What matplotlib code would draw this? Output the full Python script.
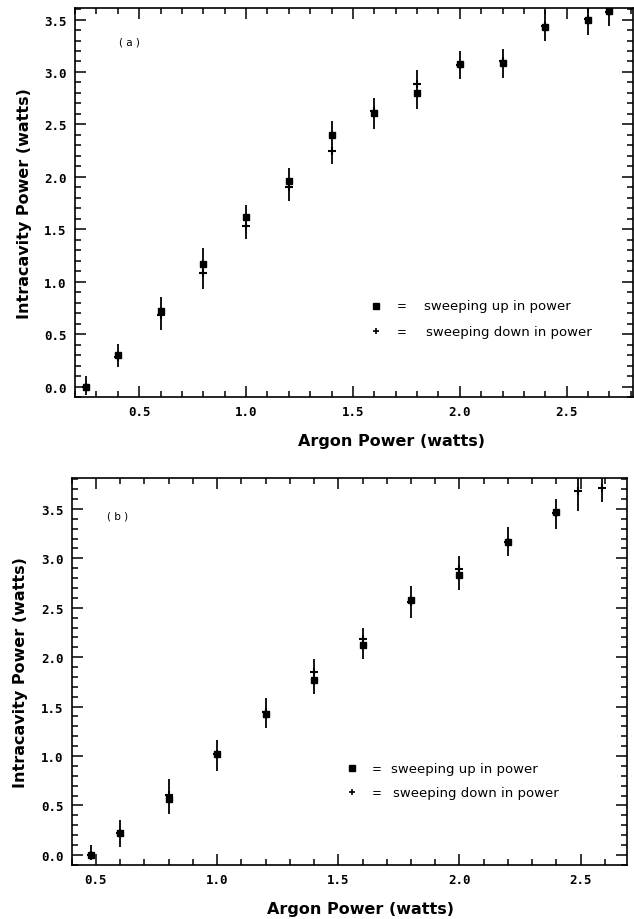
import matplotlib
matplotlib.use("Agg")
import numpy as np
from matplotlib import pyplot as plt
from matplotlib.ticker import MultipleLocator, FormatStrFormatter

# panel (a)
a_x = [0.25, 0.4, 0.6, 0.8, 1.0, 1.2, 1.4, 1.6, 1.8, 2.0, 2.2, 2.4, 2.6, 2.7]
a_up = [0.0, 0.30, 0.72, 1.17, 1.62, 1.96, 2.40, 2.61, 2.80, 3.08, 3.09, 3.43, 3.50, 3.58]
a_down = [0.0, 0.28, 0.68, 1.08, 1.53, 1.90, 2.25, 2.63, 2.89, 3.07, 3.10, 3.44, 3.51, 3.57]
a_lo = [-0.08, 0.19, 0.54, 0.93, 1.41, 1.77, 2.12, 2.46, 2.65, 2.93, 2.94, 3.30, 3.35, 3.44]
a_hi = [0.10, 0.41, 0.85, 1.32, 1.73, 2.08, 2.53, 2.75, 3.02, 3.20, 3.22, 3.59, 3.65, 3.65]

# panel (b)
b_x = [0.48, 0.6, 0.8, 1.0, 1.2, 1.4, 1.6, 1.8, 2.0, 2.2, 2.4, 2.49, 2.59]
b_up = [0.0, 0.22, 0.57, 1.02, 1.43, 1.77, 2.12, 2.58, 2.83, 3.17, 3.47, np.nan, np.nan]
b_down = [0.0, 0.22, 0.61, 1.02, 1.45, 1.85, 2.18, 2.56, 2.89, 3.17, 3.46, 3.68, 3.71]
b_lo = [-0.05, 0.08, 0.41, 0.85, 1.28, 1.63, 1.98, 2.40, 2.68, 3.02, 3.30, 3.48, 3.57]
b_hi = [0.10, 0.35, 0.77, 1.16, 1.59, 1.98, 2.30, 2.72, 3.02, 3.32, 3.60, 3.85, 3.85]

tick_font = {'family': 'DejaVu Sans Mono', 'weight': 'bold', 'size': 9}
label_font = {'family': 'DejaVu Sans', 'weight': 'bold', 'size': 11.5}


def panel(ax, x, up, down, lo, hi, xlim, ylim, tag, tag_pos, leg_pos, xlab_xy):
	ax.vlines(x, lo, hi, color='black', linewidth=1.3, zorder=2)
	ax.plot(x, up, linestyle='none', marker='s', markersize=4.2, color='black', zorder=3)
	ax.plot(x, down, linestyle='none', marker='+', markersize=5.5, markeredgewidth=1.5, color='black', zorder=3)
	ax.set_xlim(*xlim)
	ax.set_ylim(*ylim)
	ax.xaxis.set_major_locator(MultipleLocator(0.5))
	ax.xaxis.set_minor_locator(MultipleLocator(0.1))
	ax.yaxis.set_major_locator(MultipleLocator(0.5))
	ax.yaxis.set_minor_locator(MultipleLocator(0.1))
	ax.xaxis.set_major_formatter(FormatStrFormatter('%.1f'))
	ax.yaxis.set_major_formatter(FormatStrFormatter('%.1f'))
	ax.tick_params(which='both', direction='in', top=True, right=True, width=1.1)
	ax.tick_params(which='major', length=8, pad=6)
	ax.tick_params(which='minor', length=4)
	for lab in ax.get_xticklabels() + ax.get_yticklabels():
		lab.set_fontproperties(tick_font)
	for sp in ax.spines.values():
		sp.set_linewidth(1.2)
	ax.set_xlabel('Argon Power (watts)', fontdict=label_font)
	ax.xaxis.set_label_coords(*xlab_xy)
	ax.set_ylabel('Intracavity Power (watts)', fontdict=label_font, labelpad=9)
	ax.text(tag_pos[0], tag_pos[1], tag, transform=ax.transAxes, fontsize=7.5, va='center')
	lx, ly, dy, ex, tx = leg_pos
	ax.plot([lx], [ly], transform=ax.transAxes, marker='s', markersize=4, color='black', linestyle='none')
	ax.plot([lx], [ly - dy], transform=ax.transAxes, marker='+', markersize=4, markeredgewidth=1.2, color='black', linestyle='none')
	ax.text(ex, ly, '=', transform=ax.transAxes, fontsize=8.5, va='center', ha='center')
	ax.text(ex, ly - dy, '=', transform=ax.transAxes, fontsize=8.5, va='center', ha='center')
	ax.text(tx, ly, 'sweeping up in power', transform=ax.transAxes, fontsize=9.5, va='center')
	ax.text(tx + 0.004, ly - dy, 'sweeping down in power', transform=ax.transAxes, fontsize=9.5, va='center')


fig = plt.figure(figsize=(6.34, 9.2), dpi=100)

ax1 = fig.add_axes([0.1183, 0.5674, 0.880, 0.4228])
panel(ax1, a_x, a_up, a_down, a_lo, a_hi, (0.2, 2.81), (-0.1, 3.61), '( a )',
	(0.078, 0.915), (0.54, 0.235, 0.066, 0.585, 0.626), (0.567, -0.092))

ax2 = fig.add_axes([0.1131, 0.059, 0.8754, 0.42])
panel(ax2, b_x, b_up, b_down, b_lo, b_hi, (0.4, 2.69), (-0.1, 3.81), '( b )',
	(0.063, 0.905), (0.505, 0.25, 0.062, 0.55, 0.575), (0.521, -0.095))

fig.savefig('out.png', dpi=100)
